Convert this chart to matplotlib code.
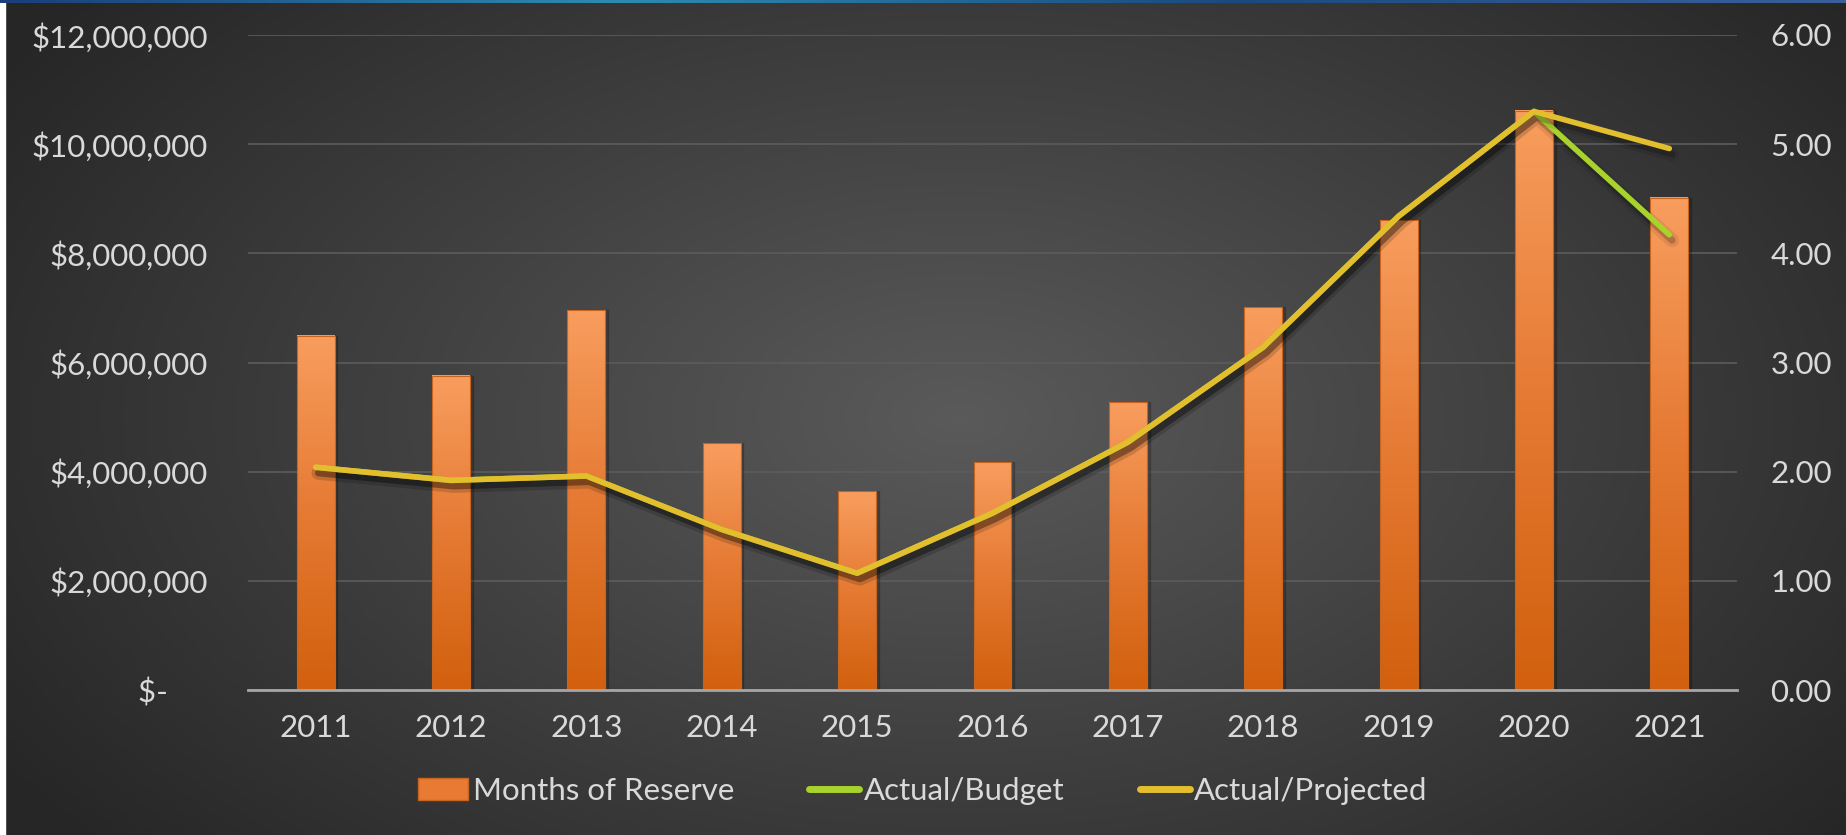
import matplotlib.pyplot as plt
import numpy as np
from matplotlib import patheffects as pe
from matplotlib.colors import LinearSegmentedColormap
from matplotlib.lines import Line2D
from matplotlib.patches import Patch, Rectangle
from matplotlib.ticker import FuncFormatter

years = ['2011', '2012', '2013', '2014', '2015', '2016',
         '2017', '2018', '2019', '2020', '2021']
reserve = [6.49e6, 5.76e6, 6.96e6, 4.52e6, 3.64e6, 4.17e6,
           5.27e6, 7.01e6, 8.61e6, 10.61e6, 9.02e6]
actual_budget = [2.04, 1.92, 1.96, 1.47, 1.07, 1.62, 2.27, 3.14, 4.34, 5.30, 4.17]
actual_projected = [2.04, 1.92, 1.96, 1.47, 1.07, 1.62, 2.27, 3.14, 4.34, 5.30, 4.96]

txt = '#d9d9d9'
green = '#a8d22c'
yellow = '#e3bf2e'
fs = 22.5
plt.rcParams['font.family'] = ['Lato', 'DejaVu Sans']

fig = plt.figure(figsize=(18.46, 8.35), dpi=100)

# dark radial background
bg = fig.add_axes([0, 0, 1, 1], zorder=-10)
yy, xx = np.mgrid[0:1:300j, 0:1:600j]
r = np.sqrt(((xx - 0.52) / 0.62) ** 2 + ((yy - 0.5) / 0.8) ** 2)
bg_cmap = LinearSegmentedColormap.from_list('bg', ['#5a5a5a', '#262626'])
bg.imshow(np.clip(r, 0, 1), cmap=bg_cmap, aspect='auto', extent=[0, 1, 0, 1])
bg.axis('off')
fig.patches.append(Rectangle((0, 0), 5 / 1846, 1, transform=fig.transFigure,
                             color='white', zorder=-5))
top = fig.add_axes([0, 1 - 3 / 835, 1, 3 / 835], zorder=-4)
top.imshow(np.linspace(0, 1, 200)[None, :], aspect='auto',
           cmap=LinearSegmentedColormap.from_list('tb', ['#1a3f7a', '#2e8bb0', '#1a4a80', '#3a5f9a']))
top.axis('off')

ax = fig.add_axes([248 / 1846, 1 - 690 / 835, 1489 / 1846, 655 / 835])
ax.patch.set_alpha(0)
ax2 = ax.twinx()

x = np.arange(len(years))
w = 0.28
orange = LinearSegmentedColormap.from_list('or', ['#d2600e', '#e57a33', '#f89d5e'])
grad = np.linspace(0, 1, 100)[:, None]
for xi, h in zip(x, reserve):
    ax.add_patch(Rectangle((xi - w / 2 + 0.02, 0), w, h, color='black', alpha=0.18, zorder=1.5))
    ax.imshow(grad, cmap=orange, origin='lower', aspect='auto', zorder=2,
              extent=[xi - w / 2, xi + w / 2, 0, h])
    ax.add_patch(Rectangle((xi - w / 2, 0), w, h, fill=False, ec='#c8641e', lw=0.8, zorder=2.1))

ax.set_xlim(-0.5, len(years) - 0.5)
ax.set_ylim(0, 12e6)
ax.set_yticks(np.arange(0, 12e6 + 1, 2e6))
ax.yaxis.set_major_formatter(FuncFormatter(lambda v, _: '$-     ' if v == 0 else f'${v:,.0f}'))
ax.set_xticks(x)
ax.set_xticklabels(years)
ax.grid(axis='y', color='#5c5c5c', lw=1.2)
ax.set_axisbelow(True)
for s in ['top', 'left', 'right']:
    ax.spines[s].set_visible(False)
ax.spines['bottom'].set_color('#a6a6a6')
ax.spines['bottom'].set_linewidth(2)
ax.tick_params(length=0, labelcolor=txt, labelsize=fs)
ax.tick_params(axis='y', pad=29)
ax.tick_params(axis='x', pad=17)

shadow = [pe.SimpleLineShadow(offset=(2, -4), shadow_color='black', alpha=0.08, linewidth=10),
          pe.SimpleLineShadow(offset=(2, -4), shadow_color='black', alpha=0.2, linewidth=5),
          pe.Normal()]
ax2.plot(x, actual_budget, color=green, lw=4, solid_capstyle='round', path_effects=shadow)
ax2.plot(x, actual_projected, color=yellow, lw=4, solid_capstyle='round', path_effects=shadow)
ax2.set_ylim(0, 6)
ax2.set_yticks(np.arange(0, 7, 1))
ax2.yaxis.set_major_formatter(FuncFormatter(lambda v, _: f'{v:.2f}'))
for s in ax2.spines.values():
    s.set_visible(False)
ax2.tick_params(length=0, labelcolor=txt, labelsize=fs, pad=24)

handles = [Patch(facecolor='#e87a33', edgecolor='#c8641e'),
           Line2D([], [], color=green, lw=5, solid_capstyle='round'),
           Line2D([], [], color=yellow, lw=5, solid_capstyle='round')]
fig.legend(handles, ['Months of Reserve', 'Actual/Budget', 'Actual/Projected'],
           loc='center', bbox_to_anchor=(0.5, 0.053), ncol=3, frameon=False,
           fontsize=fs, labelcolor=txt, handlelength=1.6, handletextpad=0.15,
           columnspacing=2.4)

fig.savefig('out.png', dpi=100)
